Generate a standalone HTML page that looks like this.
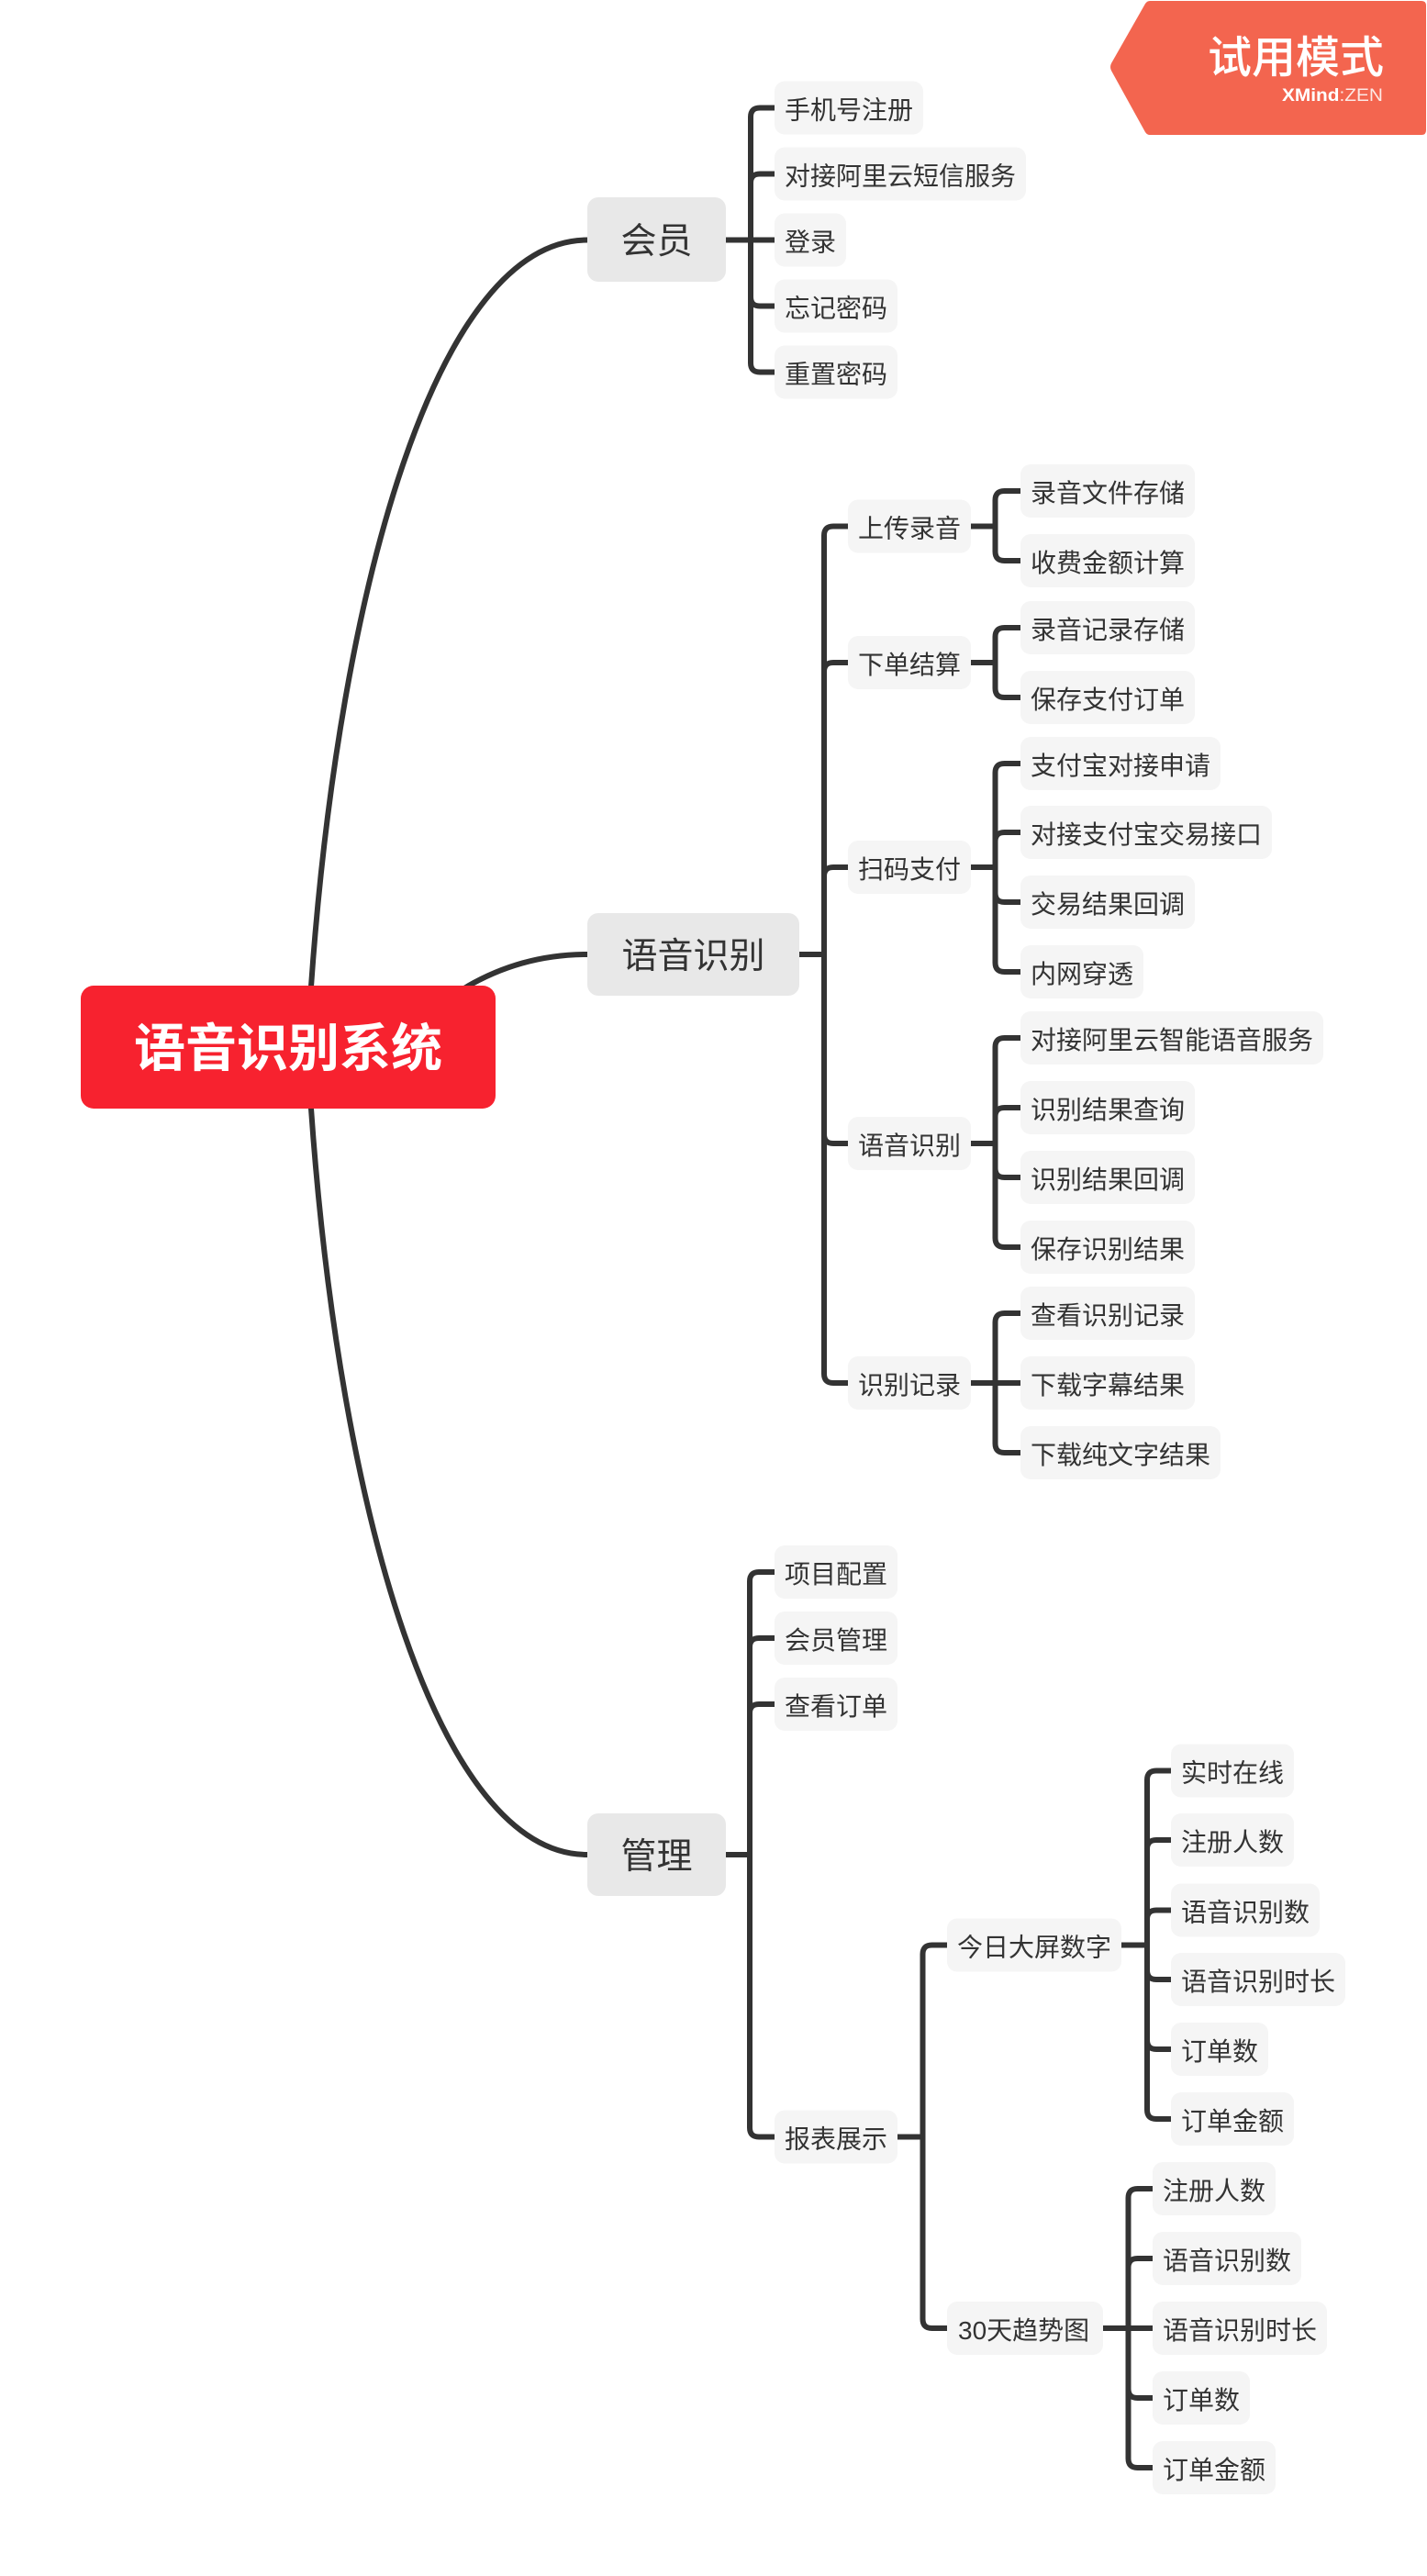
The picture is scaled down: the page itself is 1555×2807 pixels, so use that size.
<!DOCTYPE html>
<html>
<head>
<meta charset="utf-8">
<style>
  html,body{margin:0;padding:0;background:#ffffff;}
  body{width:1555px;height:2807px;overflow:hidden;}
  svg{display:block;}
  .ln{fill:none;stroke:#333333;stroke-width:6;}
  .lf{fill:#f5f5f5;}
  .mt{fill:#e8e8e8;}
  .t{font-family:"Liberation Sans","Noto Sans CJK SC",sans-serif;font-size:28px;fill:#333333;}
  .tm{font-family:"Liberation Sans","Noto Sans CJK SC",sans-serif;font-size:39px;fill:#333333;}
</style>
</head>
<body>
<svg width="1555" height="2807" viewBox="0 0 1555 2807" xmlns="http://www.w3.org/2000/svg">
  <!-- main curves from root -->
  <path class="ln" d="M339,1141 L339,1075 C370,633 478,261.5 640,261.5"/>
  <path class="ln" d="M430,1141 Q520,1040 640,1040"/>
  <path class="ln" d="M339,1141 L339,1208 C370,1650 478,2021 640,2021"/>

  <!-- 会员 connectors -->
  <path class="ln" d="M791,261.5 H818"/>
  <path class="ln" d="M818,261.5 V127.5 Q818,117.5 828,117.5 H844"/>
  <path class="ln" d="M818,261.5 V199.5 Q818,189.5 828,189.5 H844"/>
  <path class="ln" d="M818,261.5 H844"/>
  <path class="ln" d="M818,261.5 V323.5 Q818,333.5 828,333.5 H844"/>
  <path class="ln" d="M818,261.5 V395.5 Q818,405.5 828,405.5 H844"/>

  <!-- 语音识别 connectors -->
  <path class="ln" d="M871,1040 H898"/>
  <path class="ln" d="M898,1040 V583.5 Q898,573.5 908,573.5 H924"/>
  <path class="ln" d="M898,1040 V732 Q898,722 908,722 H924"/>
  <path class="ln" d="M898,1040 V955 Q898,945 908,945 H924"/>
  <path class="ln" d="M898,1040 V1236 Q898,1246 908,1246 H924"/>
  <path class="ln" d="M898,1040 V1497 Q898,1507 908,1507 H924"/>

  <!-- 上传录音 -->
  <path class="ln" d="M1058,573.5 H1084.5"/>
  <path class="ln" d="M1084.5,573.5 V545 Q1084.5,535 1094.5,535 H1112"/>
  <path class="ln" d="M1084.5,573.5 V601 Q1084.5,611 1094.5,611 H1112"/>
  <!-- 下单结算 -->
  <path class="ln" d="M1058,722 H1084.5"/>
  <path class="ln" d="M1084.5,722 V694 Q1084.5,684 1094.5,684 H1112"/>
  <path class="ln" d="M1084.5,722 V750 Q1084.5,760 1094.5,760 H1112"/>
  <!-- 扫码支付 -->
  <path class="ln" d="M1058,945 H1084.5"/>
  <path class="ln" d="M1084.5,945 V842 Q1084.5,832 1094.5,832 H1112"/>
  <path class="ln" d="M1084.5,945 V917 Q1084.5,907 1094.5,907 H1112"/>
  <path class="ln" d="M1084.5,945 V973 Q1084.5,983 1094.5,983 H1112"/>
  <path class="ln" d="M1084.5,945 V1049 Q1084.5,1059 1094.5,1059 H1112"/>
  <!-- 语音识别 sub -->
  <path class="ln" d="M1058,1246 H1084.5"/>
  <path class="ln" d="M1084.5,1246 V1141 Q1084.5,1131 1094.5,1131 H1112"/>
  <path class="ln" d="M1084.5,1246 V1217 Q1084.5,1207 1094.5,1207 H1112"/>
  <path class="ln" d="M1084.5,1246 V1273 Q1084.5,1283 1094.5,1283 H1112"/>
  <path class="ln" d="M1084.5,1246 V1349 Q1084.5,1359 1094.5,1359 H1112"/>
  <!-- 识别记录 -->
  <path class="ln" d="M1058,1507 H1084.5"/>
  <path class="ln" d="M1084.5,1507 V1441 Q1084.5,1431 1094.5,1431 H1112"/>
  <path class="ln" d="M1084.5,1507 H1112"/>
  <path class="ln" d="M1084.5,1507 V1573 Q1084.5,1583 1094.5,1583 H1112"/>

  <!-- 管理 connectors -->
  <path class="ln" d="M791,2021 H817"/>
  <path class="ln" d="M817,2021 V1723 Q817,1713 827,1713 H844"/>
  <path class="ln" d="M817,2021 V1795 Q817,1785 827,1785 H844"/>
  <path class="ln" d="M817,2021 V1867 Q817,1857 827,1857 H844"/>
  <path class="ln" d="M817,2021 V2318.5 Q817,2328.5 827,2328.5 H844"/>
  <!-- 报表展示 -->
  <path class="ln" d="M978,2328.5 H1005.5"/>
  <path class="ln" d="M1005.5,2328.5 V2129.5 Q1005.5,2119.5 1015.5,2119.5 H1032"/>
  <path class="ln" d="M1005.5,2328.5 V2527 Q1005.5,2537 1015.5,2537 H1032"/>
  <!-- 今日大屏数字 -->
  <path class="ln" d="M1222,2119.5 H1250"/>
  <path class="ln" d="M1250,2119.5 V1939.5 Q1250,1929.5 1260,1929.5 H1276"/>
  <path class="ln" d="M1250,2119.5 V2015 Q1250,2005 1260,2005 H1276"/>
  <path class="ln" d="M1250,2119.5 V2091.5 Q1250,2081.5 1260,2081.5 H1276"/>
  <path class="ln" d="M1250,2119.5 V2147 Q1250,2157 1260,2157 H1276"/>
  <path class="ln" d="M1250,2119.5 V2223 Q1250,2233 1260,2233 H1276"/>
  <path class="ln" d="M1250,2119.5 V2299 Q1250,2309 1260,2309 H1276"/>
  <!-- 30天趋势图 -->
  <path class="ln" d="M1202,2537 H1229.5"/>
  <path class="ln" d="M1229.5,2537 V2395 Q1229.5,2385 1239.5,2385 H1256"/>
  <path class="ln" d="M1229.5,2537 V2471 Q1229.5,2461 1239.5,2461 H1256"/>
  <path class="ln" d="M1229.5,2537 H1256"/>
  <path class="ln" d="M1229.5,2537 V2603 Q1229.5,2613 1239.5,2613 H1256"/>
  <path class="ln" d="M1229.5,2537 V2679 Q1229.5,2689 1239.5,2689 H1256"/>

  <!-- root -->
  <rect x="88" y="1074" width="452" height="134" rx="14" fill="#f7222f"/>
  <text x="314" y="1162" text-anchor="middle" font-family="'Liberation Sans','Noto Sans CJK SC',sans-serif" font-size="56" font-weight="bold" fill="#ffffff">语音识别系统</text>

  <!-- main topics -->
  <rect class="mt" x="640" y="215" width="151" height="92" rx="12"/>
  <text class="tm" x="715.5" y="276" text-anchor="middle">会员</text>
  <rect class="mt" x="640" y="995" width="231" height="90" rx="12"/>
  <text class="tm" x="755.5" y="1055" text-anchor="middle">语音识别</text>
  <rect class="mt" x="640" y="1976" width="151" height="90" rx="12"/>
  <text class="tm" x="715.5" y="2036" text-anchor="middle">管理</text>

  <!-- 会员 children -->
  <rect class="lf" x="844" y="88.5" width="162" height="58" rx="11"/><text class="t" x="855" y="129.5">手机号注册</text>
  <rect class="lf" x="844" y="160.5" width="274" height="58" rx="11"/><text class="t" x="855" y="201.5">对接阿里云短信服务</text>
  <rect class="lf" x="844" y="232.5" width="78" height="58" rx="11"/><text class="t" x="855" y="273.5">登录</text>
  <rect class="lf" x="844" y="304.5" width="134" height="58" rx="11"/><text class="t" x="855" y="345.5">忘记密码</text>
  <rect class="lf" x="844" y="376.5" width="134" height="58" rx="11"/><text class="t" x="855" y="417.5">重置密码</text>

  <!-- 语音识别 subs -->
  <rect class="lf" x="924" y="544.5" width="134" height="58" rx="11"/><text class="t" x="935" y="585.5">上传录音</text>
  <rect class="lf" x="924" y="693" width="134" height="58" rx="11"/><text class="t" x="935" y="734">下单结算</text>
  <rect class="lf" x="924" y="916" width="134" height="58" rx="11"/><text class="t" x="935" y="957">扫码支付</text>
  <rect class="lf" x="924" y="1217" width="134" height="58" rx="11"/><text class="t" x="935" y="1258">语音识别</text>
  <rect class="lf" x="924" y="1478" width="134" height="58" rx="11"/><text class="t" x="935" y="1519">识别记录</text>

  <!-- leaves -->
  <rect class="lf" x="1112" y="506" width="190" height="58" rx="11"/><text class="t" x="1123" y="547">录音文件存储</text>
  <rect class="lf" x="1112" y="582" width="190" height="58" rx="11"/><text class="t" x="1123" y="623">收费金额计算</text>
  <rect class="lf" x="1112" y="655" width="190" height="58" rx="11"/><text class="t" x="1123" y="696">录音记录存储</text>
  <rect class="lf" x="1112" y="731" width="190" height="58" rx="11"/><text class="t" x="1123" y="772">保存支付订单</text>
  <rect class="lf" x="1112" y="803" width="218" height="58" rx="11"/><text class="t" x="1123" y="844">支付宝对接申请</text>
  <rect class="lf" x="1112" y="878" width="274" height="58" rx="11"/><text class="t" x="1123" y="919">对接支付宝交易接口</text>
  <rect class="lf" x="1112" y="954" width="190" height="58" rx="11"/><text class="t" x="1123" y="995">交易结果回调</text>
  <rect class="lf" x="1112" y="1030" width="134" height="58" rx="11"/><text class="t" x="1123" y="1071">内网穿透</text>
  <rect class="lf" x="1112" y="1102" width="330" height="58" rx="11"/><text class="t" x="1123" y="1143">对接阿里云智能语音服务</text>
  <rect class="lf" x="1112" y="1178" width="190" height="58" rx="11"/><text class="t" x="1123" y="1219">识别结果查询</text>
  <rect class="lf" x="1112" y="1254" width="190" height="58" rx="11"/><text class="t" x="1123" y="1295">识别结果回调</text>
  <rect class="lf" x="1112" y="1330" width="190" height="58" rx="11"/><text class="t" x="1123" y="1371">保存识别结果</text>
  <rect class="lf" x="1112" y="1402" width="190" height="58" rx="11"/><text class="t" x="1123" y="1443">查看识别记录</text>
  <rect class="lf" x="1112" y="1478" width="190" height="58" rx="11"/><text class="t" x="1123" y="1519">下载字幕结果</text>
  <rect class="lf" x="1112" y="1554" width="218" height="58" rx="11"/><text class="t" x="1123" y="1595">下载纯文字结果</text>

  <!-- 管理 children -->
  <rect class="lf" x="844" y="1684" width="134" height="58" rx="11"/><text class="t" x="855" y="1725">项目配置</text>
  <rect class="lf" x="844" y="1756" width="134" height="58" rx="11"/><text class="t" x="855" y="1797">会员管理</text>
  <rect class="lf" x="844" y="1828" width="134" height="58" rx="11"/><text class="t" x="855" y="1869">查看订单</text>
  <rect class="lf" x="844" y="2299.5" width="134" height="58" rx="11"/><text class="t" x="855" y="2340.5">报表展示</text>

  <rect class="lf" x="1032" y="2090.5" width="190" height="58" rx="11"/><text class="t" x="1043" y="2131.5">今日大屏数字</text>
  <rect class="lf" x="1032" y="2508" width="170" height="58" rx="11"/><text class="t" x="1044" y="2549">30天趋势图</text>

  <rect class="lf" x="1276" y="1900.5" width="134" height="58" rx="11"/><text class="t" x="1287" y="1941.5">实时在线</text>
  <rect class="lf" x="1276" y="1976" width="134" height="58" rx="11"/><text class="t" x="1287" y="2017">注册人数</text>
  <rect class="lf" x="1276" y="2052.5" width="162" height="58" rx="11"/><text class="t" x="1287" y="2093.5">语音识别数</text>
  <rect class="lf" x="1276" y="2128" width="190" height="58" rx="11"/><text class="t" x="1287" y="2169">语音识别时长</text>
  <rect class="lf" x="1276" y="2204" width="106" height="58" rx="11"/><text class="t" x="1287" y="2245">订单数</text>
  <rect class="lf" x="1276" y="2280" width="134" height="58" rx="11"/><text class="t" x="1287" y="2321">订单金额</text>

  <rect class="lf" x="1256" y="2356" width="134" height="58" rx="11"/><text class="t" x="1267" y="2397">注册人数</text>
  <rect class="lf" x="1256" y="2432" width="162" height="58" rx="11"/><text class="t" x="1267" y="2473">语音识别数</text>
  <rect class="lf" x="1256" y="2508" width="190" height="58" rx="11"/><text class="t" x="1267" y="2549">语音识别时长</text>
  <rect class="lf" x="1256" y="2584" width="106" height="58" rx="11"/><text class="t" x="1267" y="2625">订单数</text>
  <rect class="lf" x="1256" y="2660" width="134" height="58" rx="11"/><text class="t" x="1267" y="2701">订单金额</text>

  <!-- trial badge -->
  <path d="M1253,1 H1549 Q1554,1 1554,6 V142 Q1554,147 1549,147 H1253 Q1250,147 1248,144 L1211,77 Q1209,73 1211,69 L1248,4 Q1250,1 1253,1 Z" fill="#f3654f"/>
  <text x="1508" y="79" text-anchor="end" font-family="'Liberation Sans','Noto Sans CJK SC',sans-serif" font-size="48" font-weight="500" fill="#ffffff">试用模式</text>
  <text x="1397" y="110" textLength="110" lengthAdjust="spacingAndGlyphs" font-family="'Liberation Sans','DejaVu Sans',sans-serif" font-size="19" fill="#ffffff"><tspan font-weight="bold">XMind</tspan><tspan opacity="0.85">:ZEN</tspan></text>
</svg>
</body>
</html>
